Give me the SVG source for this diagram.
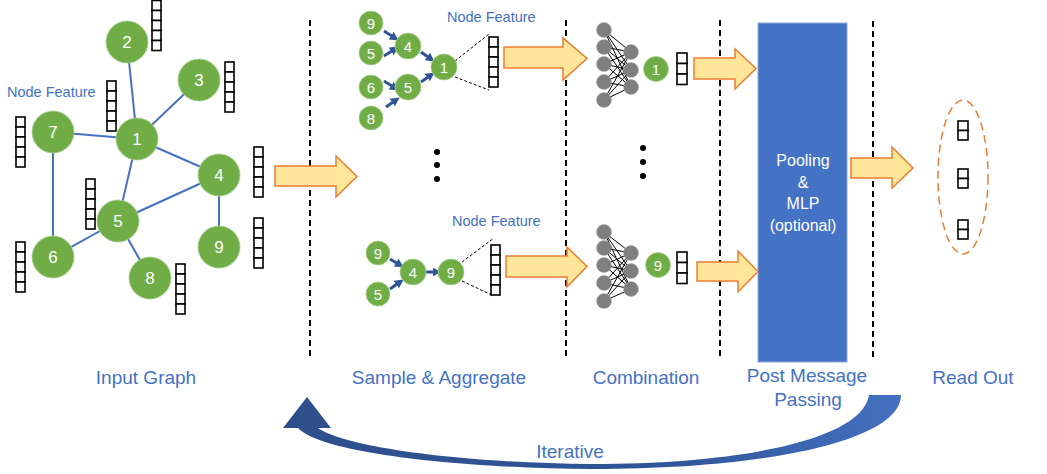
<svg xmlns="http://www.w3.org/2000/svg" xmlns:xlink="http://www.w3.org/1999/xlink" width="1047" height="474" viewBox="0 0 1047 474">
<style>
.edge{stroke:#4472C4;stroke-width:2;fill:none}
.gn{fill:#70AD47;stroke:#A9D18E;stroke-width:0.8}
.gt{fill:#fff;font-family:"Liberation Sans",Arial,sans-serif;text-anchor:middle}
.cell{fill:#fff;stroke:#000;stroke-width:1.6}
.lbl{fill:#4472C4;font-family:"Liberation Sans",Arial,sans-serif;font-size:19px;text-anchor:middle}
.nf{fill:#4472C4;font-family:"Liberation Sans",Arial,sans-serif;font-size:14.5px}
.big{fill:#FFE699;stroke:#ED7D31;stroke-width:1.5;stroke-linejoin:miter}
.vdash{stroke:#000;stroke-width:2;stroke-dasharray:6 4;fill:none}
.sdash{stroke:#000;stroke-width:1;stroke-dasharray:3 2;fill:none}
.sarr{stroke:#2F5597;stroke-width:3;fill:none;marker-end:url(#ah)}
.nn{stroke:#000;stroke-width:1;fill:none}
.gray{fill:#7F7F7F;stroke:#A6A6A6;stroke-width:0.5}
.dot{fill:#000}
.pt{fill:#fff;font-family:"Liberation Sans",Arial,sans-serif;font-size:16px;text-anchor:middle}
</style>
<defs>
<marker id="ah" viewBox="0 0 10 10" refX="5" refY="5" markerWidth="3" markerHeight="3" orient="auto" markerUnits="strokeWidth">
<path d="M0,0 L10,5 L0,10 Z" fill="#2F5597"/>
</marker>
<g id="v5"><rect class="cell" x="0" y="0" width="9" height="10"/><rect class="cell" x="0" y="10" width="9" height="10"/><rect class="cell" x="0" y="20" width="9" height="10"/><rect class="cell" x="0" y="30" width="9" height="10"/><rect class="cell" x="0" y="40" width="9" height="10"/></g>
<g id="v3"><rect class="cell" x="0" y="0" width="10" height="10.5"/><rect class="cell" x="0" y="10.5" width="10" height="10.5"/><rect class="cell" x="0" y="21" width="10" height="10.5"/></g>
<g id="v2"><rect class="cell" x="0" y="0" width="10" height="9.5"/><rect class="cell" x="0" y="9.5" width="10" height="9.5"/></g>
<linearGradient id="itg" x1="0" y1="0" x2="1" y2="0">
<stop offset="0" stop-color="#2E4F8C"/>
<stop offset="0.6" stop-color="#2F5597"/>
<stop offset="1" stop-color="#4470C0"/>
</linearGradient>
</defs>

<g id="separators">
<line class="vdash" x1="310" y1="20" x2="310" y2="360"/>
<line class="vdash" x1="566" y1="20" x2="566" y2="360"/>
<line class="vdash" x1="720" y1="20" x2="720" y2="360"/>
<line class="vdash" x1="873" y1="21" x2="873" y2="360"/>
</g>

<g id="connectors">
<line class="edge" x1="127" y1="42" x2="137" y2="139"/>
<line class="edge" x1="199" y1="80" x2="137" y2="139"/>
<line class="edge" x1="53" y1="132" x2="137" y2="139"/>
<line class="edge" x1="137" y1="139" x2="219" y2="175"/>
<line class="edge" x1="137" y1="139" x2="118" y2="221"/>
<line class="edge" x1="53" y1="132" x2="53" y2="257"/>
<line class="edge" x1="219" y1="175" x2="118" y2="221"/>
<line class="edge" x1="219" y1="175" x2="219" y2="247"/>
<line class="edge" x1="118" y1="221" x2="53" y2="257"/>
<line class="edge" x1="118" y1="221" x2="150" y2="278"/>
<!-- sample arrows top -->
<line class="sarr" x1="384" y1="31" x2="395" y2="38"/>
<line class="sarr" x1="384" y1="56" x2="395" y2="49"/>
<line class="sarr" x1="421" y1="52" x2="431" y2="59"/>
<line class="sarr" x1="384" y1="81" x2="395" y2="88"/>
<line class="sarr" x1="386" y1="107" x2="396" y2="100"/>
<line class="sarr" x1="421" y1="82" x2="431" y2="75"/>
<line class="sdash" x1="455" y1="61" x2="489" y2="34"/>
<line class="sdash" x1="455" y1="77" x2="489" y2="90"/>
<!-- sample arrows bottom -->
<line class="sarr" x1="390" y1="259" x2="400" y2="265"/>
<line class="sarr" x1="390" y1="289" x2="400" y2="282"/>
<line class="sarr" x1="426" y1="272" x2="437" y2="272"/>
<line class="sdash" x1="462" y1="262" x2="494" y2="238"/>
<line class="sdash" x1="462" y1="281" x2="494" y2="296"/>
<!-- big arrows -->
<polygon class="big" points="275,166 336,166 336,156 357,176.5 336,197 336,186 275,186"/>
<polygon class="big" points="504,47 563,47 563,38 587,58.5 563,80 563,68 504,68"/>
<polygon class="big" points="506,256 567,256 567,247 587,266.5 567,287 567,277 506,277"/>
<polygon class="big" points="694,58 735,58 735,49 756,68.5 735,89 735,79 694,79"/>
<polygon class="big" points="697,262 738,262 738,251 758,271.5 738,292 738,281 697,281"/>
<polygon class="big" points="851,158 892,158 892,147 913,168 892,188 892,178 851,178"/>
<!-- iterative arrow -->
<path fill="url(#itg)" d="M 869 395 L 901 395 C 901 440 770 469 592 469 C 450 468 320 452 298 428 L 283 428 L 307 397 L 331 428 L 318 428 C 345 447 460 463 592 464 C 740 464 862 440 869 395 Z"/>
</g>

<g id="input-graph">
<g id="n2"><circle class="gn" cx="127" cy="42" r="21"/><text class="gt" x="127" y="48" font-size="17">2</text></g>
<g id="n3"><circle class="gn" cx="199" cy="80" r="21"/><text class="gt" x="199" y="86" font-size="17">3</text></g>
<g id="n7"><circle class="gn" cx="53" cy="132" r="21"/><text class="gt" x="53" y="138" font-size="17">7</text></g>
<g id="n1"><circle class="gn" cx="137" cy="139" r="21"/><text class="gt" x="137" y="145" font-size="17">1</text></g>
<g id="n4"><circle class="gn" cx="219" cy="175" r="21"/><text class="gt" x="219" y="181" font-size="17">4</text></g>
<g id="n5"><circle class="gn" cx="118" cy="221" r="21"/><text class="gt" x="118" y="227" font-size="17">5</text></g>
<g id="n9"><circle class="gn" cx="219" cy="247" r="21"/><text class="gt" x="219" y="253" font-size="17">9</text></g>
<g id="n6"><circle class="gn" cx="53" cy="257" r="21"/><text class="gt" x="53" y="263" font-size="17">6</text></g>
<g id="n8"><circle class="gn" cx="150" cy="278" r="21"/><text class="gt" x="150" y="284" font-size="17">8</text></g>
<g id="features">
<use href="#v5" x="152" y="0.5"/>
<use href="#v5" x="225" y="62"/>
<use href="#v5" x="107" y="81"/>
<use href="#v5" x="16" y="117"/>
<use href="#v5" x="254" y="147"/>
<use href="#v5" x="86" y="179"/>
<use href="#v5" x="254" y="218"/>
<use href="#v5" x="16" y="242"/>
<use href="#v5" x="176" y="264"/>
</g>
<text class="nf" x="7" y="97">Node Feature</text>
</g>

<g id="sample-top">
<g><circle class="gn" cx="371" cy="23" r="12"/><text class="gt" x="371" y="28.5" font-size="15">9</text></g>
<g><circle class="gn" cx="371" cy="53" r="12"/><text class="gt" x="371" y="58.5" font-size="15">5</text></g>
<g><circle class="gn" cx="408" cy="46" r="13"/><text class="gt" x="408" y="51.5" font-size="15">4</text></g>
<g><circle class="gn" cx="371" cy="87" r="12"/><text class="gt" x="371" y="92.5" font-size="15">6</text></g>
<g><circle class="gn" cx="408" cy="87" r="13"/><text class="gt" x="408" y="92.5" font-size="15">5</text></g>
<g><circle class="gn" cx="371" cy="118" r="12"/><text class="gt" x="371" y="123.5" font-size="15">8</text></g>
<g><circle class="gn" cx="444" cy="67" r="13"/><text class="gt" x="444" y="72.5" font-size="15">1</text></g>
<use href="#v5" x="489" y="37"/>
<text class="nf" x="447" y="22">Node Feature</text>
</g>

<g id="sample-bottom">
<g><circle class="gn" cx="378" cy="253" r="12"/><text class="gt" x="378" y="258.5" font-size="15">9</text></g>
<g><circle class="gn" cx="378" cy="294" r="12"/><text class="gt" x="378" y="299.5" font-size="15">5</text></g>
<g><circle class="gn" cx="413" cy="272" r="13"/><text class="gt" x="413" y="277.5" font-size="15">4</text></g>
<g><circle class="gn" cx="451" cy="272" r="13"/><text class="gt" x="451" y="277.5" font-size="15">9</text></g>
<use href="#v5" x="491" y="245"/>
<text class="nf" x="452" y="226">Node Feature</text>
</g>

<g id="ellipsis">
<circle class="dot" cx="437" cy="152" r="3"/><circle class="dot" cx="437" cy="165" r="3"/><circle class="dot" cx="437" cy="179" r="3"/>
<circle class="dot" cx="643" cy="148" r="3"/><circle class="dot" cx="643" cy="162" r="3"/><circle class="dot" cx="643" cy="176" r="3"/>
</g>

<g id="combination-top">
<g>
<path class="nn" d="M604 30L631 52M604 30L631 70M604 30L631 87M604 47L631 52M604 47L631 70M604 47L631 87M604 64L631 52M604 64L631 70M604 64L631 87M604 82L631 52M604 82L631 70M604 82L631 87M604 100L631 52M604 100L631 70M604 100L631 87"/>
</g>
<circle class="gray" cx="604" cy="30" r="7.5"/><circle class="gray" cx="604" cy="47" r="7.5"/><circle class="gray" cx="604" cy="64" r="7.5"/><circle class="gray" cx="604" cy="82" r="7.5"/><circle class="gray" cx="604" cy="100" r="7.5"/>
<circle class="gray" cx="631" cy="52" r="7.5"/><circle class="gray" cx="631" cy="70" r="7.5"/><circle class="gray" cx="631" cy="87" r="7.5"/>
<g><circle class="gn" cx="656" cy="69" r="12.5"/><text class="gt" x="656" y="74.5" font-size="15">1</text></g>
<use href="#v3" x="677" y="53"/>
</g>

<g id="combination-bottom">
<path class="nn" d="M604 232L631 253M604 232L631 271M604 232L631 289M604 248L631 253M604 248L631 271M604 248L631 289M604 265L631 253M604 265L631 271M604 265L631 289M604 283L631 253M604 283L631 271M604 283L631 289M604 301L631 253M604 301L631 271M604 301L631 289"/>
<circle class="gray" cx="604" cy="232" r="7.5"/><circle class="gray" cx="604" cy="248" r="7.5"/><circle class="gray" cx="604" cy="265" r="7.5"/><circle class="gray" cx="604" cy="283" r="7.5"/><circle class="gray" cx="604" cy="301" r="7.5"/>
<circle class="gray" cx="631" cy="253" r="7.5"/><circle class="gray" cx="631" cy="271" r="7.5"/><circle class="gray" cx="631" cy="289" r="7.5"/>
<g><circle class="gn" cx="658" cy="265" r="12.5"/><text class="gt" x="658" y="270.5" font-size="15">9</text></g>
<use href="#v3" x="677" y="252"/>
</g>

<g id="pooling">
<rect x="758" y="23" width="89" height="339" fill="#4472C4" stroke="#8FAADC" stroke-width="1"/>
<text class="pt" x="803" y="166">Pooling</text>
<text class="pt" x="803" y="188">&amp;</text>
<text class="pt" x="803" y="209">MLP</text>
<text class="pt" x="803" y="231">(optional)</text>
</g>

<g id="readout">
<ellipse cx="963" cy="177" rx="25" ry="77" fill="none" stroke="#ED7D31" stroke-width="1.5" stroke-dasharray="8 5"/>
<use href="#v2" x="958" y="121"/>
<use href="#v2" x="958" y="169"/>
<use href="#v2" x="958" y="220"/>
</g>

<g id="labels">
<text class="lbl" x="146" y="384">Input Graph</text>
<text class="lbl" x="439" y="384">Sample &amp; Aggregate</text>
<text class="lbl" x="646" y="384">Combination</text>
<text class="lbl" x="807" y="382">Post Message</text>
<text class="lbl" x="808" y="406">Passing</text>
<text class="lbl" x="973" y="384">Read Out</text>
<text class="lbl" x="570" y="458">Iterative</text>
</g>
</svg>
